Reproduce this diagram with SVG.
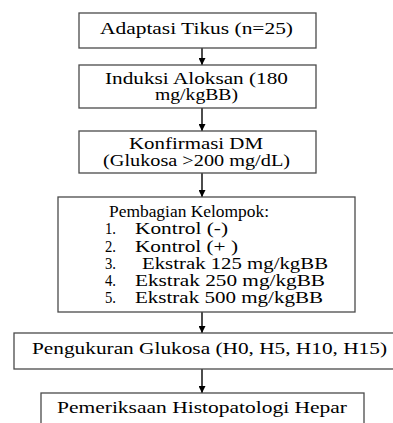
<svg xmlns="http://www.w3.org/2000/svg" width="393" height="423" viewBox="0 0 393 423">
<style>
.box{fill:#fff;stroke:#4a4a4a;stroke-width:1.3}
.t{font-family:'Liberation Serif','Times New Roman',serif;font-size:16px;fill:#000}
.c{stroke:#000;stroke-width:1.4;fill:none}
</style>
<defs>
<marker id="ah" viewBox="0 0 10 10" refX="10" refY="5" markerWidth="7" markerHeight="7" markerUnits="userSpaceOnUse" orient="auto">
<path d="M0,0 L10,5 L0,10 z" fill="#000"/>
</marker>
</defs>
<rect width="393" height="423" fill="#fff"/>
<g id="connectors">
<line class="c" x1="202" y1="48" x2="202" y2="65" marker-end="url(#ah)"/>
<line class="c" x1="202" y1="108" x2="202" y2="131" marker-end="url(#ah)"/>
<line class="c" x1="202" y1="173" x2="202" y2="197" marker-end="url(#ah)"/>
<line class="c" x1="202" y1="312" x2="202" y2="333" marker-end="url(#ah)"/>
<line class="c" x1="202" y1="369" x2="202" y2="393" marker-end="url(#ah)"/>
</g>
<g id="n1">
<rect class="box" x="79" y="13" width="237" height="35"/>
<text class="t" x="100" y="34" textLength="193" lengthAdjust="spacingAndGlyphs">Adaptasi Tikus (n=25)</text>
</g>
<g id="n2">
<rect class="box" x="79" y="65" width="237" height="43"/>
<text class="t" x="105" y="84" textLength="183" lengthAdjust="spacingAndGlyphs">Induksi Aloksan (180</text>
<text class="t" x="155" y="100" textLength="83" lengthAdjust="spacingAndGlyphs">mg/kgBB)</text>
</g>
<g id="n3">
<rect class="box" x="79" y="131" width="237" height="42"/>
<text class="t" x="129" y="149" textLength="134" lengthAdjust="spacingAndGlyphs">Konfirmasi DM</text>
<text class="t" x="103" y="166" textLength="187" lengthAdjust="spacingAndGlyphs">(Glukosa &gt;200 mg/dL)</text>
</g>
<g id="n4">
<rect class="box" x="58" y="197" width="297" height="115"/>
<text class="t" x="109" y="217" textLength="160" lengthAdjust="spacingAndGlyphs">Pembagian Kelompok:</text>
<text class="t" x="105" y="234" textLength="11" lengthAdjust="spacingAndGlyphs">1.</text>
<text class="t" x="135" y="234" textLength="93" lengthAdjust="spacingAndGlyphs">Kontrol (-)</text>
<text class="t" x="105" y="252" textLength="11" lengthAdjust="spacingAndGlyphs">2.</text>
<text class="t" x="135" y="252" textLength="103" lengthAdjust="spacingAndGlyphs">Kontrol (+ )</text>
<text class="t" x="105" y="269" textLength="11" lengthAdjust="spacingAndGlyphs">3.</text>
<text class="t" x="142" y="269" textLength="186" lengthAdjust="spacingAndGlyphs">Ekstrak 125 mg/kgBB</text>
<text class="t" x="105" y="286" textLength="11" lengthAdjust="spacingAndGlyphs">4.</text>
<text class="t" x="135" y="286" textLength="190" lengthAdjust="spacingAndGlyphs">Ekstrak 250 mg/kgBB</text>
<text class="t" x="105" y="303" textLength="11" lengthAdjust="spacingAndGlyphs">5.</text>
<text class="t" x="135" y="303" textLength="188" lengthAdjust="spacingAndGlyphs">Ekstrak 500 mg/kgBB</text>
</g>
<g id="n5">
<rect class="box" x="14" y="333" width="380" height="36"/>
<text class="t" x="32" y="354" textLength="355" lengthAdjust="spacingAndGlyphs">Pengukuran Glukosa (H0, H5, H10, H15)</text>
</g>
<g id="n6">
<rect class="box" x="41" y="393" width="323" height="40"/>
<text class="t" x="57" y="413" textLength="290" lengthAdjust="spacingAndGlyphs">Pemeriksaan Histopatologi Hepar</text>
</g>
</svg>
